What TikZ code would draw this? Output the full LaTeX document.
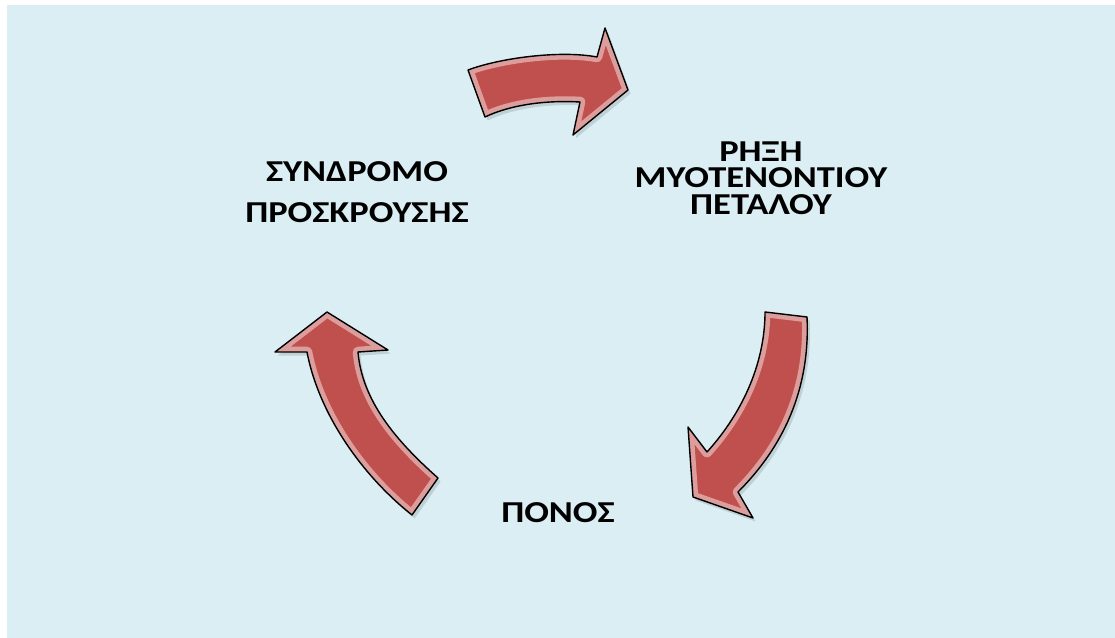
\documentclass[tikz,border=0pt]{standalone}
\usepackage{fontspec}
\setmainfont{Carlito}[FakeStretch=1.2]
\usetikzlibrary{positioning}
\definecolor{bgblue}{HTML}{DAEEF3}
\definecolor{arrowred}{HTML}{C0504D}
\tikzset{
  lbl/.style={font=\fontsize{17.3}{15}\selectfont\bfseries, align=center, inner sep=0pt},
  arrowfill/.style={fill=arrowred},
  arrowgloss/.style={draw=white, opacity=0.45, line width=6pt, line join=round},
  arrowline/.style={draw=black, line width=0.8pt, line join=round}
}
% glossy block arrow: shadow, fill, inner highlight, outline
\newcommand{\glossyarrow}[1]{%
  \fill[black, opacity=0.12, xshift=1.5pt, yshift=-2pt] #1;
  \begin{scope}
    \clip #1;
    \fill[arrowfill] #1;
    \draw[arrowgloss] #1;
  \end{scope}
  \draw[arrowline] #1;
}

\begin{document}
\begin{tikzpicture}[x=0.02cm, y=-0.02cm]
  \useasboundingbox (0,0) rectangle (1115,638);
  \fill[bgblue] (7,5) rectangle (1115,638);

  % arrows of the cycle
  \glossyarrow{(468,70) .. controls (500,58) and (560,50) .. (597,57) -- (605,28) -- (628,90)
    -- (573,135) -- (580,102) .. controls (545,100) and (510,105) .. (485,117) -- cycle}
  \glossyarrow{(765,312) -- (807,317) .. controls (810,380) and (790,440) .. (738,492)
    -- (753,518) -- (693,497) -- (688,427) -- (707,452)
    .. controls (745,410) and (765,360) .. (765,312) -- cycle}
  \glossyarrow{(327,312) -- (388,350) -- (358,352) .. controls (362,400) and (395,440) .. (438,478)
    -- (412,515) .. controls (358,472) and (318,410) .. (307,352) -- (275,352) -- cycle}

  % labels
  \node[lbl] (rupture) at (761,178) {ΡΗΞΗ\\ΜΥΟΤΕΝΟΝΤΙΟΥ\\ΠΕΤΑΛΟΥ};
  \node[lbl] (impingement) at (357,192) {ΣΥΝΔΡΟΜΟ\\[8.5pt]ΠΡΟΣΚΡΟΥΣΗΣ};
  \node[lbl] (pain) at (558,513) {ΠΟΝΟΣ};
\end{tikzpicture}
\end{document}
